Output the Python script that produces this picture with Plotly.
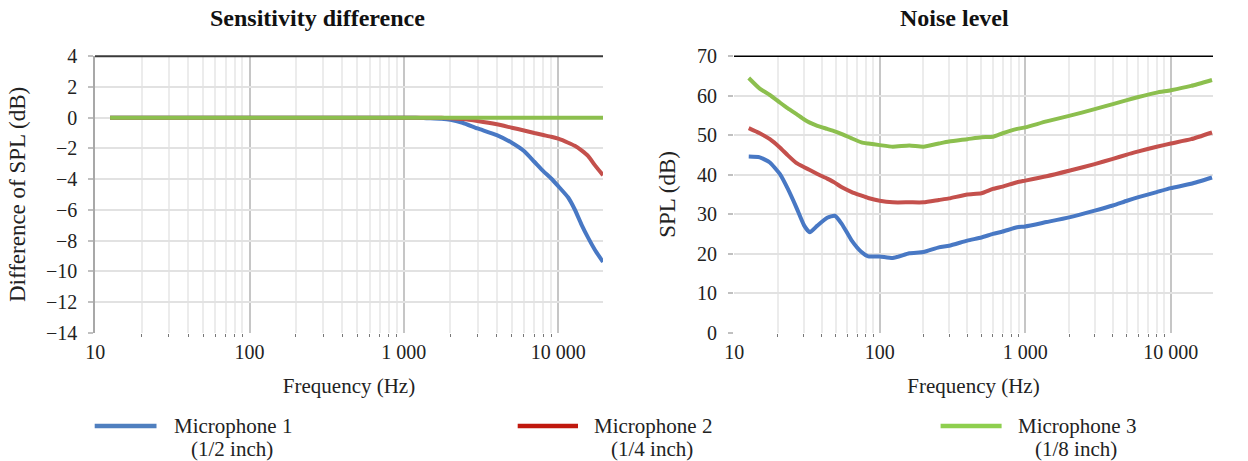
import math
import plotly.graph_objects as go

# ---- Sensitivity difference (dB) vs frequency (Hz) ----
sens_freq = [12.5, 100, 1000, 1200, 1400, 1750, 2000, 2400, 3000, 4000, 5000, 6000,
             7000, 8000, 9000, 10000, 11600, 12800, 14150, 15640, 17260, 19500]
sens_mic1 = [0, 0, 0, 0, -0.03, -0.07, -0.13, -0.33, -0.70, -1.13, -1.63, -2.17,
             -2.87, -3.48, -3.96, -4.46, -5.20, -5.98, -6.96, -7.83, -8.60, -9.40]
sens_mic2 = [0, 0, 0, 0, 0, 0, -0.03, -0.09, -0.22, -0.43, -0.65, -0.83,
             -1.00, -1.13, -1.24, -1.37, -1.63, -1.83, -2.13, -2.50, -3.09, -3.75]
sens_mic3 = [0] * len(sens_freq)

# ---- Noise level SPL (dB) vs frequency (Hz) ----
noise_freq = [12.6, 15, 17.6, 20.6, 23.4, 26.7, 30.3, 33.1, 37.3, 43.6, 49.1, 55,
              64.3, 75, 83.4, 100, 123, 160, 200, 255, 300, 400, 500, 600, 700,
              880, 1000, 1400, 2000, 3000, 4000, 5000, 6000, 8000, 10000, 13800, 19200]
noise_mic1 = [44.6, 44.4, 43.1, 40.2, 36.4, 31.8, 27.1, 25.4, 27.1, 29.1, 29.6, 27.5,
              23.3, 20.4, 19.3, 19.3, 18.9, 20.1, 20.4, 21.6, 22.0, 23.3, 24.1, 25.0, 25.6,
              26.7, 26.9, 28.0, 29.2, 30.9, 32.2, 33.4, 34.3, 35.6, 36.6, 37.7, 39.3]
noise_mic2 = [51.8, 50.5, 49.0, 46.9, 44.9, 43.0, 41.9, 41.2, 40.2, 39.0, 38.0, 36.8,
              35.6, 34.7, 34.1, 33.4, 33.0, 33.0, 33.0, 33.6, 34.0, 35.0, 35.3, 36.4, 37.0,
              38.1, 38.5, 39.6, 41.0, 42.7, 44.0, 45.1, 45.9, 47.1, 47.9, 49.0, 50.7]
noise_mic3 = [64.5, 61.8, 60.2, 58.3, 56.8, 55.4, 54.0, 53.2, 52.4, 51.6, 51.0, 50.3,
              49.2, 48.2, 47.9, 47.5, 47.1, 47.4, 47.1, 47.9, 48.4, 49.0, 49.5, 49.6, 50.5,
              51.6, 52.0, 53.5, 54.9, 56.6, 57.9, 58.9, 59.7, 60.8, 61.4, 62.5, 64.0]

series_names = ["Microphone 1", "Microphone 2", "Microphone 3"]
series_sizes = ["(1/2 inch)", "(1/4 inch)", "(1/8 inch)"]
line_colors = ["#4878C4", "#C4504C", "#8CBF4E"]
legend_colors = ["#4F7FBF", "#C0180E", "#8ECF4E"]

x_tickvals = [10, 100, 1000, 10000]
x_ticktext = ["10", "100", "1 000", "10 000"]
x_minor = [k * 10 ** d for d in (1, 2, 3) for k in range(2, 10)]

W, H = 1248, 461
FONT = "Liberation Serif, Times New Roman, serif"


def px(x):
    return x / W


def py(y):
    return 1 - y / H


fig = go.Figure()

for vals, col, name in zip([sens_mic1, sens_mic2, sens_mic3], line_colors, series_names):
    fig.add_trace(go.Scatter(x=sens_freq, y=vals, mode="lines", name=name,
                             line=dict(color=col, width=4, shape="spline", smoothing=0.5),
                             xaxis="x", yaxis="y", showlegend=False))
for vals, col, name in zip([noise_mic1, noise_mic2, noise_mic3], line_colors, series_names):
    fig.add_trace(go.Scatter(x=noise_freq, y=vals, mode="lines", name=name,
                             line=dict(color=col, width=4, shape="spline", smoothing=0.5),
                             xaxis="x2", yaxis="y2", showlegend=False))

y_dom = [py(332.6), py(56.3)]

xcommon = dict(
    type="log", tickvals=x_tickvals, ticktext=x_ticktext, ticks="",
    showgrid=True, gridcolor="#c6c6c6", gridwidth=1.5, zeroline=False,
    showline=False, automargin=False, ticklabelstandoff=5,
    tickfont=dict(family=FONT, size=20, color="#222"),
    minor=dict(tickvals=x_minor, ticks="outside", ticklen=3, tickwidth=1,
               tickcolor="#777", showgrid=True, gridcolor="#ececec", gridwidth=1.5),
)
ycommon = dict(
    showgrid=True, gridcolor="#e2e2e2", gridwidth=2, zeroline=False,
    ticks="outside", ticklen=5, tickcolor="#c0c0c0", tickwidth=1.5,
    automargin=False, ticklabelstandoff=7,
    tickfont=dict(family=FONT, size=20, color="#222"),
)

fig.update_layout(
    width=W, height=H,
    margin=dict(l=0, r=0, t=0, b=0),
    paper_bgcolor="white", plot_bgcolor="white",
    font=dict(family=FONT, color="#222"),
    xaxis=dict(domain=[px(95), px(603)], anchor="y",
               range=[math.log10(9.98), math.log10(19500)],
               title=dict(text="Frequency (Hz)", standoff=16,
                          font=dict(family=FONT, size=21)),
               **xcommon),
    yaxis=dict(domain=y_dom, anchor="x", range=[-14, 4], dtick=2,
               showline=True, linecolor="#a8a8a8", linewidth=1.5,
               title=dict(text="Difference of SPL (dB)", standoff=14,
                          font=dict(family=FONT, size=23)),
               **ycommon),
    xaxis2=dict(domain=[px(734), px(1213)], anchor="y2",
                range=[math.log10(9.98), math.log10(19500)],
                title=dict(text="Frequency (Hz)", standoff=16,
                           font=dict(family=FONT, size=21)),
                **xcommon),
    yaxis2=dict(domain=y_dom, anchor="x2", range=[0, 70], dtick=10,
                showline=False,
                title=dict(text="SPL (dB)", standoff=14,
                           font=dict(family=FONT, size=23)),
                **ycommon),
)

# dark rule along the top of each panel
fig.add_shape(type="line", xref="x domain", yref="y domain", x0=0, x1=1, y0=1, y1=1,
              line=dict(color="#3a3a3a", width=2))
fig.add_shape(type="line", xref="x2 domain", yref="y2 domain", x0=0, x1=1, y0=1, y1=1,
              line=dict(color="#000000", width=1.5))

# panel titles
for text, cx in [("Sensitivity difference", 317), ("Noise level", 955)]:
    fig.add_annotation(text=f"<b>{text}</b>", x=px(cx), y=py(18), xref="paper", yref="paper",
                       xanchor="center", yanchor="middle", showarrow=False,
                       font=dict(family=FONT, size=24, color="#111"))

# legend row at the bottom
legend_x = [(94.7, 156.5, 232.8), (517.7, 578.0, 653.3), (940.6, 1001.6, 1076.6)]
for (x0, x1, tx), col, name, size in zip(legend_x, legend_colors, series_names, series_sizes):
    fig.add_shape(type="line", xref="paper", yref="paper", x0=px(x0), x1=px(x1),
                  y0=py(426), y1=py(426), line=dict(color=col, width=4.5))
    fig.add_annotation(text=name, x=px(tx), y=py(425.5), xref="paper", yref="paper",
                       xanchor="center", yanchor="middle", showarrow=False,
                       font=dict(family=FONT, size=21, color="#222"))
    fig.add_annotation(text=size, x=px(tx - 1), y=py(448.5), xref="paper", yref="paper",
                       xanchor="center", yanchor="middle", showarrow=False,
                       font=dict(family=FONT, size=21, color="#222"))

fig.write_html("out.html")
